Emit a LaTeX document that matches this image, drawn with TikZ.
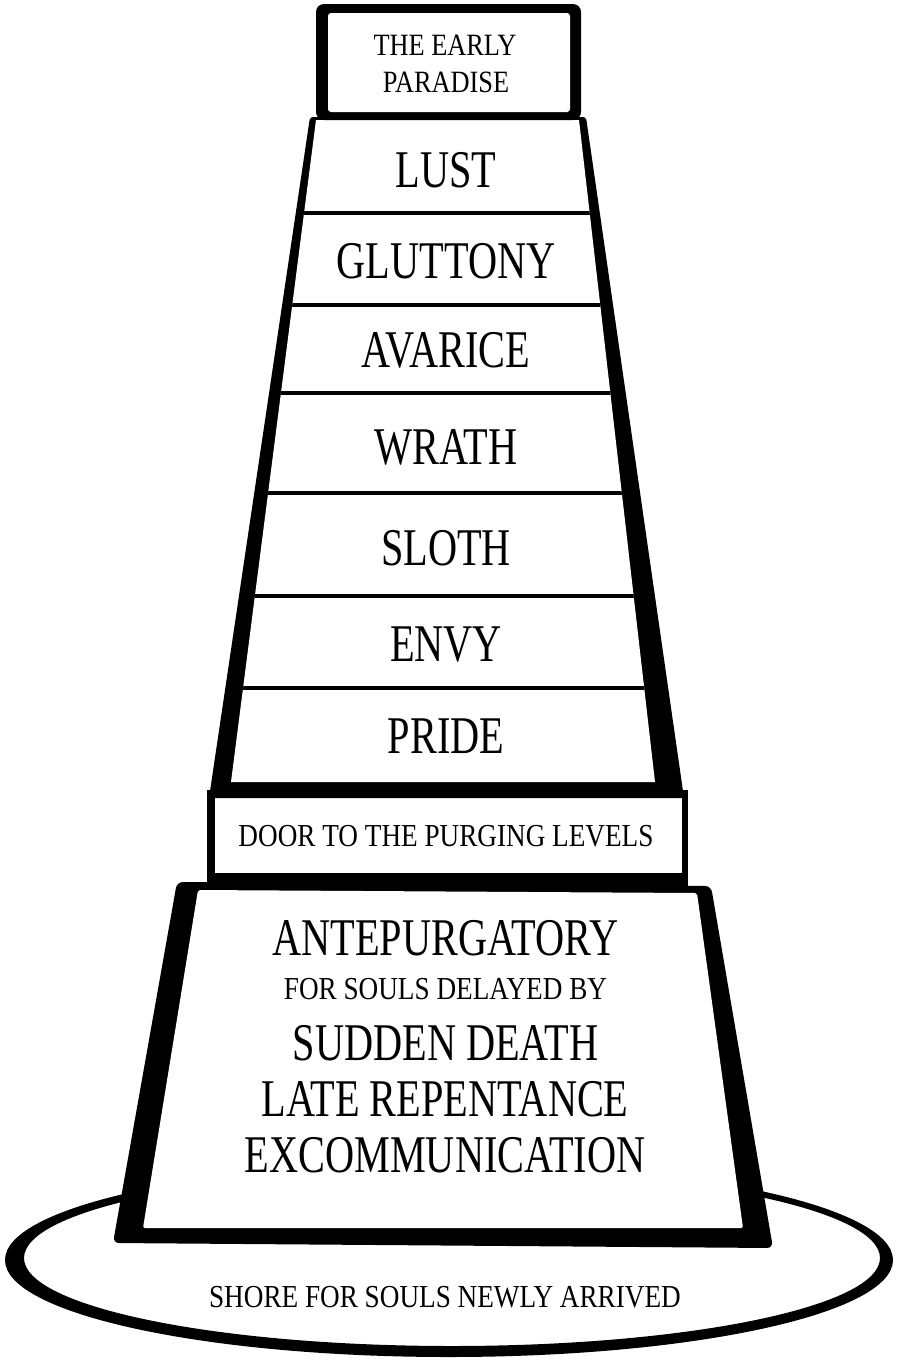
\documentclass[tikz,border=0pt]{standalone}
\usepackage{fontspec}
\setmainfont{Liberation Serif}
\newfontfamily\tallserif[FakeStretch=0.76]{Liberation Serif}
\newfontfamily\narrowserif[FakeStretch=0.85]{Liberation Serif}
\usepackage{tikz}
\usetikzlibrary{calc}

\begin{document}
\begin{tikzpicture}[
  x=1pt, y=-1pt,
  ink/.style={fill=black},
  paper/.style={fill=white},
  terrace/.style={font=\tallserif\fontsize{53}{56}\selectfont, inner sep=0pt},
  caption/.style={font=\narrowserif\fontsize{32}{34}\selectfont, inner sep=0pt},
  crown/.style={font=\narrowserif\fontsize{31}{33}\selectfont, inner sep=0pt},
  divider/.style={draw=black, line width=4pt}]

  \useasboundingbox[fill=white] (0,0) rectangle (902,1363);

  % shore: a ring, heavier on the left and below
  \fill[ink, even odd rule] (449,1260) ellipse [x radius=444pt, y radius=97pt]
                            (452,1258) ellipse [x radius=428pt, y radius=88pt];

  % antepurgatory block
  \fill[ink, rounded corners=6pt] (177,882) -- (711,886) -- (773,1248) -- (113,1243) -- cycle;
  \fill[paper, rounded corners=2pt] (198,890) -- (697,893) -- (743,1228) -- (143,1228) -- cycle;

  % door band
  \fill[ink] (207,790) rectangle (688,886);
  \fill[paper] (215,798) rectangle (682,873);

  % the seven purging levels
  \fill[ink, rounded corners=3pt] (310,117) -- (586,117) -- (684,798) -- (209,798) -- cycle;
  \fill[paper] (316,120) -- (579,120) -- (655,782) -- (231,782) -- cycle;
  \begin{scope}
    \clip (316,120) -- (579,120) -- (655,782) -- (231,782) -- cycle;
    \foreach \ly in {213,305,393,493,596,688}
      \draw[divider] (200,\ly) -- (700,\ly);
  \end{scope}

  % top box
  \fill[ink, rounded corners=8pt] (316,4) rectangle (581,120);
  \fill[paper, rounded corners=3pt] (328,13) rectangle (570,112);

  % labels
  \node[crown] (early) at (445,45) {THE EARLY};
  \node[crown] (paradise) at (446,82.5) {PARADISE};
  \foreach \name/\ly/\word in {lust/170.5/LUST, gluttony/261/GLUTTONY, avarice/350/AVARICE,
      wrath/447/WRATH, sloth/548/SLOTH, envy/645/ENVY, pride/736/PRIDE}
    \node[terrace] (\name) at (446,\ly) {\word};
  \node[caption] (door) at (446,836) {DOOR TO THE PURGING LEVELS};
  \node[terrace] (ante) at (445.5,938) {ANTEPURGATORY};
  \node[caption] (delayed) at (445.5,989) {FOR SOULS DELAYED BY};
  \node[terrace] (sudden) at (445.5,1043) {SUDDEN DEATH};
  \node[terrace] (late) at (445,1099) {LATE REPENTANCE};
  \node[terrace] (excom) at (445,1155) {EXCOMMUNICATION};
  \node[caption] (shore) at (445,1297) {SHORE FOR SOULS NEWLY ARRIVED};
\end{tikzpicture}
\end{document}
